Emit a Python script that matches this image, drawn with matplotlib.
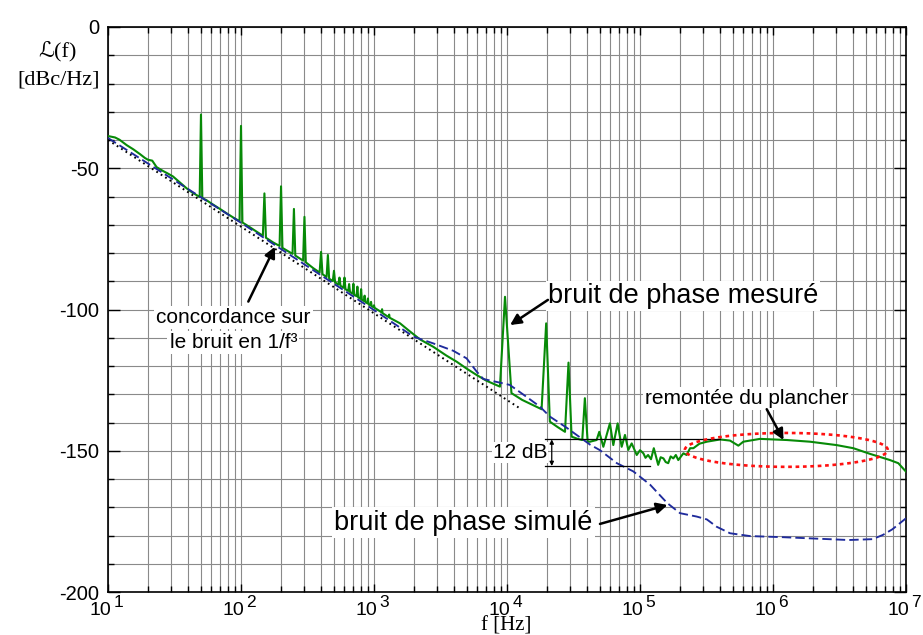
import numpy as np
import matplotlib
matplotlib.use('Agg')
import matplotlib.pyplot as plt
from matplotlib.ticker import LogLocator, MultipleLocator, NullFormatter

plt.rcParams['font.family'] = ['Liberation Sans', 'DejaVu Sans']
SERIF = ['Liberation Serif', 'DejaVu Serif', 'DejaVu Sans']

# ---------------- data ----------------
# simulated phase noise (blue dashed)
sim_f = [10, 100, 1000, 1980, 2790, 3940, 4970, 5920, 6640, 8850, 10500, 14000,
         17700, 21000, 28000, 42000, 50000, 67000, 89000, 119000, 160000, 200000,
         267000, 318000, 377000, 475000, 670000, 1.19e6, 2.1e6, 3.7e6, 5.6e6,
         6.7e6, 7.9e6, 1e7]
sim_db = [-39.3, -69.3, -100.2, -109.6, -112.0, -114.6, -117.3, -122.0, -124.6,
          -125.9, -126.7, -130.9, -134.4, -137.9, -141.8, -147.8, -149.8, -154.4,
          -157.3, -162.0, -168.5, -172.1, -173.3, -174.3, -176.9, -179.2, -180.2,
          -180.6, -181.1, -181.6, -181.3, -179.8, -177.8, -173.9]

# 1/f^3 asymptote (black dotted)
slope_f = [10, 12500]
slope_db = [-40.0, -135.0]

# measured phase noise (green), low frequency part with mains spurs
meas_low = [(10, -38.6), (11.3, -39.1), (12.2, -39.9), (13.8, -41.8), (15.5, -43.3),
            (17.4, -45.0), (19.0, -46.4), (20.0, -47.0), (21.5, -47.3), (23.2, -49.6),
            (26.0, -51.0), (28.0, -51.8), (30.8, -52.9), (35, -55.2), (39, -57.1),
            (43, -58.6), (47.5, -59.8), (48.9, -60.2), (50, -31.0), (51.2, -60.6),
            (55, -61.3), (60, -62.5), (70, -64.5), (80, -66.3), (90, -67.8),
            (97.5, -68.7), (100, -35.0), (102.5, -69.2), (110, -70.1), (125, -71.8),
            (146, -73.9), (150, -58.9), (154, -74.6), (175, -76.3),
            (195, -77.5), (200, -56.4), (205, -78.2),
            (244, -80.3), (250, -64.4), (256, -80.9),
            (293, -82.7), (300, -67.2), (307, -83.3), (350, -85.4)]
meas_mid = [(390, -86.9), (400, -79.6), (410, -87.5), (440, -88.5), (450, -80.7),
            (460, -89.1), (490, -89.9), (500, -86.3), (510, -90.4), (540, -91.2),
            (550, -88.7), (560, -91.6), (590, -92.3), (600, -88.7), (610, -92.8),
            (640, -93.4), (650, -91.0), (660, -93.8), (690, -94.4), (700, -90.9),
            (710, -94.8), (740, -95.3), (750, -91.9), (760, -95.7), (790, -96.2),
            (800, -92.8), (810, -96.5), (840, -97.0), (850, -95.1), (860, -97.3),
            (890, -97.8), (900, -96.1), (910, -98.1), (940, -98.5), (950, -97.3),
            (960, -98.8), (990, -99.2), (1000, -98.5), (1010, -99.4), (1140, -101.0),
            (1150, -99.9), (1160, -101.3), (1290, -102.7), (1300, -101.8),
            (1310, -102.9), (1570, -104.9), (1800, -107.2), (2220, -110.6),
            (2790, -113.2), (3500, -116.3), (4190, -118.5), (5000, -121.0),
            (5920, -123.2), (7000, -125.2), (8000, -126.4)]
meas_high = [(8850, -127.3), (9660, -95.5), (10800, -129.6), (13000, -132.0),
             (17700, -135.0), (18200, -135.3), (19700, -104.9), (21000, -139.7),
             (24000, -141.6), (27300, -143.3), (29000, -118.8), (30600, -145.0),
             (34000, -145.8), (36800, -146.2), (38500, -131.4), (40400, -146.8),
             (42100, -146.8), (47200, -146.2), (49400, -143.3), (53000, -148.6),
             (59400, -140.3), (63000, -148.0), (67900, -140.3), (72800, -148.6),
             (77100, -144.4), (81700, -149.7), (86600, -147.4), (94500, -151.5),
             (100000, -149.8), (106000, -150.9), (110000, -152.5), (115000, -151.5),
             (121000, -153.0), (127000, -149.1), (137000, -155.0), (143000, -152.3),
             (150000, -152.7), (156000, -154.0), (163000, -154.4), (170000, -152.0),
             (178000, -152.7), (186000, -151.5), (194000, -153.3), (212000, -150.9),
             (224000, -151.5), (238000, -149.1), (252000, -149.1), (280000, -147.5),
             (318000, -146.8), (400000, -146.0), (475000, -146.4), (549000, -148.2),
             (598000, -146.8), (798000, -145.8), (1270000, -146.2), (1900000, -146.8),
             (3010000, -148.0), (4020000, -149.1), (5360000, -151.1), (7580000, -153.3),
             (8750000, -154.4), (10000000, -157.4)]

# 12 dB marker levels
floor_top_db = -146.0
floor_bot_db = -155.4

# axis ticks
ytick_vals = [0, -50, -100, -150, -200]
ytick_labels = ['0', '-50', '-100', '-150', '-200']
x_exponents = [1, 2, 3, 4, 5, 6, 7]

meas_f, meas_db = zip(*(meas_low + meas_mid + meas_high))

# ---------------- figure ----------------
W, H = 923, 635
fig = plt.figure(figsize=(W / 100, H / 100), dpi=100)
ax = fig.add_axes([108 / W, 1 - 592 / H, 798 / W, 565 / H])
ax.set_xscale('log')
ax.set_xlim(10, 1e7)
ax.set_ylim(-200, 0)

ax.xaxis.set_major_locator(LogLocator(base=10, numticks=20))
ax.xaxis.set_minor_locator(LogLocator(base=10, subs=np.arange(2, 10), numticks=20))
ax.xaxis.set_major_formatter(NullFormatter())
ax.xaxis.set_minor_formatter(NullFormatter())
ax.set_yticks(ytick_vals)
ax.set_yticklabels(ytick_labels, fontsize=14.5)
ax.yaxis.set_minor_locator(MultipleLocator(10))

ax.grid(True, which='both', color='#8a8a8a', lw=0.8)
ax.set_axisbelow(True)
ax.tick_params(which='both', direction='in', top=True, right=True, color='black')
ax.tick_params(axis='y', which='major', length=8.5, width=1.0, pad=6.5)
ax.tick_params(axis='y', which='minor', length=4.3, width=1.0)
ax.tick_params(axis='x', which='major', length=6, width=1.0)
ax.tick_params(axis='x', which='minor', length=4, width=1.0)
for s in ax.spines.values():
    s.set_linewidth(1.2)
    s.set_color('black')

# curves
ax.plot(meas_f, meas_db, color='#078a07', lw=1.5, zorder=3, solid_joinstyle='round')
ln_sim, = ax.plot(sim_f, sim_db, color='#1f2b9c', lw=1.35, zorder=4)
ln_sim.set_dashes((5, 2.2))
ln_slope, = ax.plot(slope_f, slope_db, color='black', lw=1.4, zorder=4)
ln_slope.set_dashes((0.9, 1.8))

# red dotted ellipse (drawn in log-frequency space)
t = np.linspace(0, 2 * np.pi, 300)
ell_cx, ell_rx, ell_cy, ell_ry = 6.10, 0.763, -149.7, 6.0
ln_ell, = ax.plot(10 ** (ell_cx + ell_rx * np.cos(t)), ell_cy + ell_ry * np.sin(t),
                  color='#ff1010', lw=1.9, zorder=5)
ln_ell.set_dashes((1.4, 1.4))

# 12 dB marker
ax.plot([1.93e4, 4.0e5], [floor_top_db, floor_top_db], color='black', lw=0.9, zorder=4)
ax.plot([1.93e4, 1.19e5], [floor_bot_db, floor_bot_db], color='black', lw=0.9, zorder=4)
ax.annotate('', xy=(2.17e4, floor_top_db), xytext=(2.17e4, floor_bot_db),
            arrowprops=dict(arrowstyle='<|-|>', lw=0.9, color='black',
                            mutation_scale=6, shrinkA=0, shrinkB=0), zorder=5)
ax.text(2.0e4, -150.6, '12 dB', ha='right', va='center', fontsize=15, zorder=6,
        bbox=dict(facecolor='white', edgecolor='none', pad=0.5))

box = dict(facecolor='white', edgecolor='none', pad=1.5)
arr = dict(arrowstyle='-|>', lw=1.8, color='black', mutation_scale=16,
           shrinkA=0, shrinkB=0)

# annotations
ax.text(2.03e4, -97.6, 'bruit de phase mesuré', ha='left', va='baseline',
        fontsize=19.5, zorder=6, bbox=box)
ax.annotate('', xy=(1.055e4, -105.5), xytext=(2.03e4, -96.6), arrowprops=arr, zorder=6)

ax.text(500, -177.9, 'bruit de phase simulé', ha='left', va='baseline',
        fontsize=19.5, zorder=6, bbox=box)
ax.annotate('', xy=(1.61e5, -169.2), xytext=(5.0e4, -175.9), arrowprops=arr, zorder=6)

ax.text(1.09e5, -133.5, 'remontée du plancher', ha='left', va='baseline',
        fontsize=15, zorder=6, bbox=box)
ax.annotate('', xy=(1.2e6, -146.2), xytext=(8.97e5, -135.3), arrowprops=arr, zorder=6)

ax.text(87.5, -104.9, 'concordance sur', ha='center', va='baseline',
        fontsize=15, zorder=6, bbox=box)
ax.text(87.5, -113.7, 'le bruit en 1/f³', ha='center', va='baseline',
        fontsize=15, zorder=6, bbox=box)
ax.annotate('', xy=(180, -77.8), xytext=(113.5, -97.2), arrowprops=arr, zorder=6)

# x tick labels 10^n (exponent almost as large as the base)
for n in x_exponents:
    ax.annotate('10', xy=(10.0 ** n, 0), xycoords=('data', 'axes fraction'),
                xytext=(2.5, -16.8), textcoords='offset points',
                ha='right', va='baseline', fontsize=14, annotation_clip=False)
    ax.annotate(str(n), xy=(10.0 ** n, 0), xycoords=('data', 'axes fraction'),
                xytext=(3.8, -10.6), textcoords='offset points',
                ha='left', va='baseline', fontsize=12.5, annotation_clip=False)

# axis labels
fig.text(57 / W, 1 - 51 / H, 'ℒ(f)', ha='center', va='center', fontsize=16, family=SERIF)
fig.text(58.5 / W, 1 - 80.5 / H, '[dBc/Hz]', ha='center', va='center', fontsize=16,
         family=SERIF)
fig.text(506 / W, 1 - 630.5 / H, 'f [Hz]', ha='center', va='baseline', fontsize=15,
         family=SERIF)

fig.savefig('out.png', dpi=100)
